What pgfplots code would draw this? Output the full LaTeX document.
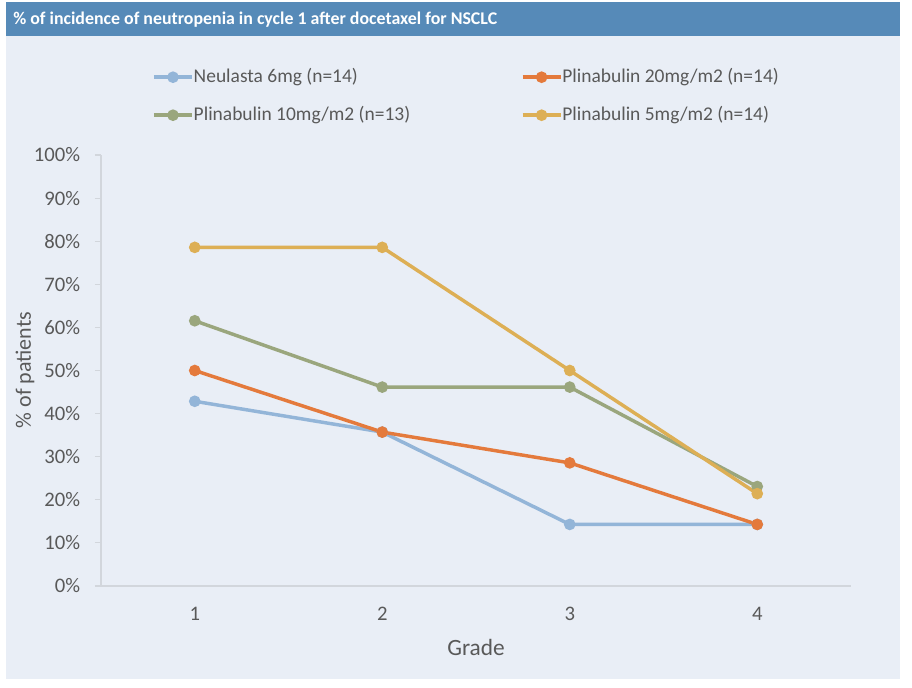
\documentclass[border=0pt]{standalone}
\usepackage{pgfplots}
\pgfplotsset{compat=1.18}
\usepackage{fontspec}
\setmainfont{Carlito}
\definecolor{panel}{RGB}{233,238,246}
\definecolor{bar}{RGB}{86,138,184}
\definecolor{txt}{RGB}{89,89,89}
\definecolor{axl}{RGB}{210,214,220}
\definecolor{cblue}{RGB}{147,181,216}
\definecolor{corange}{RGB}{228,122,60}
\definecolor{cgreen}{RGB}{154,166,125}
\definecolor{cgold}{RGB}{221,175,85}
\begin{document}
\begin{tikzpicture}
\fill[white] (0pt,0pt) rectangle (684pt,515.25pt);
\fill[panel] (4.5pt,6pt) rectangle (675pt,513.75pt);
\fill[bar] (4.5pt,488.25pt) rectangle (675pt,513.75pt);
\node[anchor=west,inner sep=0pt,text=white,font=\fontsize{13.4pt}{15pt}\selectfont\bfseries] at (9.75pt,500.5pt) {\% of incidence of neutropenia in cycle 1 after docetaxel for NSCLC};
\begin{axis}[
  at={(75.75pt,75.75pt)}, anchor=south west,
  scale only axis, width=562.5pt, height=323.25pt,
  xmin=0.5, xmax=4.5, ymin=0, ymax=100,
  axis x line*=bottom, axis y line*=left,
  axis line style={axl, line width=0.8pt},
  xtick={1,2,3,4}, minor xtick={0.5,1.5,2.5,3.5,4.5},
  ytick={0,10,20,30,40,50,60,70,80,90,100},
  yticklabels={0\%,10\%,20\%,30\%,40\%,50\%,60\%,70\%,80\%,90\%,100\%},
  tick align=outside,
  x tick style={draw=none},
  minor x tick style={axl, line width=0.8pt},
  minor tick length=4.5pt,
  y tick style={axl, line width=0.8pt},
  major tick length=4.5pt,
  tick label style={font=\fontsize{15.5pt}{17pt}\selectfont, text=txt},
  /pgf/number format/assume math mode=true,
  yticklabel style={inner sep=0pt, xshift=-11pt},
  xticklabel style={inner sep=0pt, yshift=-11pt},
  xlabel={Grade}, ylabel={\% of patients},
  label style={font=\fontsize{16.5pt}{18pt}\selectfont, text=txt},
  xlabel style={font=\fontsize{17.5pt}{19pt}\selectfont, at={(axis description cs:0.5,-0.1415)}, anchor=center, inner sep=0pt},
  ylabel style={at={(axis description cs:-0.1013,0.501)}, anchor=center, rotate=0, inner sep=0pt},
  legend columns=2,
  legend style={draw=none, fill=none, at={(axis description cs:0.068,1.202)}, anchor=north west,
    inner sep=0pt, font=\fontsize{14.6pt}{16pt}\selectfont, text=txt,
    nodes={inner sep=0pt, text height=10.5pt, text depth=3pt},
    row sep=15pt,
    /tikz/every even column/.append style={column sep=83pt}},
  legend cell align=left,
  legend image code/.code={\draw[#1, mark repeat=2, mark phase=2] plot coordinates {(0pt,0pt) (14.25pt,0pt) (28.5pt,0pt)}; \hspace{2pt}},
  every axis plot/.append style={line width=2.6pt, mark=*, mark size=3pt},
]
\addplot[cblue, mark options={fill=cblue, draw=cblue}] coordinates {(1,42.86) (2,35.71) (3,14.29) (4,14.29)};
\addlegendentry{Neulasta 6mg (n=14)}
\addplot[corange, mark options={fill=corange, draw=corange}] coordinates {(1,50.0) (2,35.71) (3,28.57) (4,14.29)};
\addlegendentry{Plinabulin 20mg/m2 (n=14)}
\addplot[cgreen, mark options={fill=cgreen, draw=cgreen}] coordinates {(1,61.54) (2,46.15) (3,46.15) (4,23.08)};
\addlegendentry{Plinabulin 10mg/m2 (n=13)}
\addplot[cgold, mark options={fill=cgold, draw=cgold}] coordinates {(1,78.57) (2,78.57) (3,50.0) (4,21.43)};
\addlegendentry{Plinabulin 5mg/m2 (n=14)}
\end{axis}
\end{tikzpicture}
\end{document}
